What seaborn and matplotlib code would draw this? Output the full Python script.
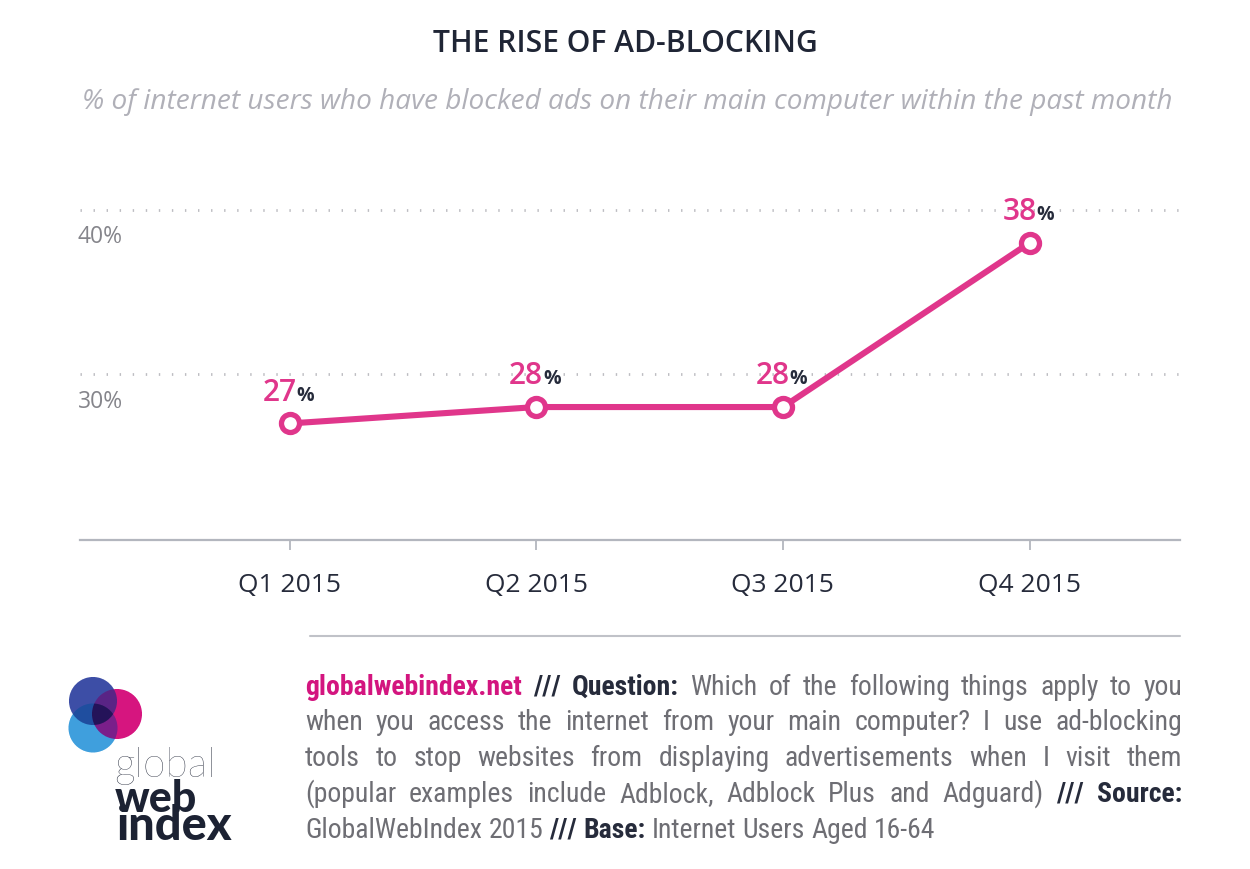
import matplotlib
matplotlib.use("Agg")
import matplotlib.pyplot as plt
import seaborn as sns
import pandas as pd
import numpy as np
from matplotlib import font_manager
from matplotlib.lines import Line2D
from matplotlib.colors import to_rgb

# ---------------- data ----------------
quarters = ["Q1 2015", "Q2 2015", "Q3 2015", "Q4 2015"]
adblock_pct = [27, 28, 28, 38]
ytick_values = [30, 40]
ytick_labels = ["30%", "40%"]

title = "THE RISE OF AD-BLOCKING"
subtitle = "% of internet users who have blocked ads on their main computer within the past month"

footer_lines = [
    [("globalwebindex.net", "brand"), ("///", "bold"), ("Question:", "bold"),
     ("Which of the following things apply to you", "reg")],
    [("when you access the internet from your main computer? I use ad-blocking", "reg")],
    [("tools to stop websites from displaying advertisements when I visit them", "reg")],
    [("(popular examples include Adblock, Adblock Plus and Adguard)", "reg"), ("/// Source:", "bold")],
    [("GlobalWebIndex 2015", "reg"), ("/// Base:", "bold"), ("Internet Users Aged 16-64", "reg")],
]

# ---------------- style ----------------
PINK = "#e0368b"
BRAND = "#d3157f"
NAVY = "#262b3b"
GREY_TXT = "#6e6e74"
W, H = 1250, 870

sns.set_theme(style="white")
plt.rcParams["font.family"] = ["Open Sans", "DejaVu Sans"]
names = {f.name for f in font_manager.fontManager.ttflist}
COND = "Open Sans"
for cand in ["Liberation Sans Narrow", "Roboto Condensed", "Open Sans Condensed",
             "Noto Sans Condensed", "Roboto"]:
    if cand in names:
        COND = cand
        break

fig = plt.figure(figsize=(W / 100, H / 100), dpi=100)
fig.patch.set_facecolor("white")
renderer = fig.canvas.get_renderer()


def fx(x):
    return x / W


def fy(y):
    return 1 - y / H


def fit_width(t, target):
    bb = t.get_window_extent(renderer)
    t.set_fontsize(t.get_fontsize() * target / bb.width)


# ---------------- axes ----------------
ax = fig.add_axes([fx(80), fy(541), fx(1180) - fx(80), (541 - 129) / H])
df = pd.DataFrame({"quarter": quarters, "pct": adblock_pct})
sns.lineplot(data=df, x="quarter", y="pct", ax=ax, color=PINK, linewidth=4.4,
             marker="o", markersize=13, markerfacecolor="white",
             markeredgecolor=PINK, markeredgewidth=3.8, sort=False, zorder=5)

ax.set_xlim(-0.85, 3.61)
ax.set_ylim(19.9, 45)
ax.set_xlabel("")
ax.set_ylabel("")
for s in ["top", "right", "left"]:
    ax.spines[s].set_visible(False)
ax.spines["bottom"].set_color("#b3b6be")
ax.spines["bottom"].set_linewidth(1.6)

ax.set_yticks(ytick_values)
ax.set_yticklabels([])
ax.tick_params(axis="y", length=0, left=False)
ax.yaxis.grid(True, color="#bdbdc2", linewidth=2.0, linestyle=(0, (0.5, 4.2)))
ax.xaxis.grid(False)

ax.tick_params(axis="x", bottom=True, direction="out", length=7, width=1.3,
               color="#b3b6be", pad=16, labelsize=19, labelcolor=NAVY)

for v, lab in zip(ytick_values, ytick_labels):
    ax.annotate(lab, xy=(0, v), xycoords=("axes fraction", "data"),
                xytext=(-1.5, -19), textcoords="offset points",
                ha="left", va="center", fontsize=16.5, color="#85858b")

for i, v in enumerate(adblock_pct):
    ax.annotate(f"{v}", xy=(i, v), xytext=(5, 17), textcoords="offset points",
                ha="right", va="baseline", fontsize=21.5, color=PINK, fontweight="semibold")
    ax.annotate("%", xy=(i, v), xytext=(5, 17), textcoords="offset points",
                ha="left", va="baseline", fontsize=14, color=NAVY, fontweight="bold")

# ---------------- titles ----------------
t = fig.text(0.5, fy(44), title, ha="center", va="center", fontsize=20,
             fontweight="semibold", color="#1f2535")
fit_width(t, 385)
st = fig.text(fx(627.5), fy(102), subtitle, ha="center", va="center", fontsize=18,
              fontstyle="italic", fontweight="medium", color="#b0b0b8")
fit_width(st, 1089)

# ---------------- footer rule ----------------
fig.add_artist(Line2D([fx(310), fx(1180)], [fy(637), fy(637)],
                      color="#c0c2c8", linewidth=1.5))

# ---------------- footer text (justified) ----------------
styles = {
    "brand": dict(color=BRAND, fontweight="bold"),
    "bold": dict(color=NAVY, fontweight="bold"),
    "reg": dict(color=GREY_TXT),
}
X0, X1 = 305, 1182
baselines = [695, 730, 766, 802, 838]
FAM = [COND, "DejaVu Sans"]


def words_of(line):
    out = []
    for seg, st_ in line:
        for w in seg.split(" "):
            out.append((w, st_))
    return out


def measure_line(line, size):
    ws = []
    for w, st_ in words_of(line):
        a = fig.text(0, 0, w, fontsize=size, family=FAM, **styles[st_])
        ws.append(a.get_window_extent(renderer).width)
        a.remove()
    sp = fig.text(0, 0, "x x", fontsize=size, family=FAM)
    sp2 = fig.text(0, 0, "xx", fontsize=size, family=FAM)
    spw = sp.get_window_extent(renderer).width - sp2.get_window_extent(renderer).width
    sp.remove(); sp2.remove()
    return ws, spw


base = 18.0
natural = []
for line in footer_lines[:4]:
    ws, spw = measure_line(line, base)
    natural.append(sum(ws) + spw * (len(ws) - 1))
limit = (X1 - X0) * 0.985
fsize = min(base * limit / max(natural), 20.0)

for li, (line, yb) in enumerate(zip(footer_lines, baselines)):
    wl = words_of(line)
    ws, spw = measure_line(line, fsize)
    if li < 4 and len(ws) > 1:
        gap = ((X1 - X0) - sum(ws)) / (len(ws) - 1)
    else:
        gap = spw
    x = X0
    for (w, st_), wd in zip(wl, ws):
        fig.text(fx(x), fy(yb), w, fontsize=fsize, family=FAM,
                 ha="left", va="baseline", **styles[st_])
        x += wd + gap

# ---------------- logo: three overlapping discs ----------------
LX0, LY0, LS = 62, 672, 88          # pixel box (left, top, size)
SS = 4
g = (np.arange(LS * SS) + 0.5) / SS
gx, gy = np.meshgrid(LX0 + g, LY0 + g)
inA = (gx - 93) ** 2 + (gy - 702) ** 2 <= 24 ** 2      # dark blue
inB = (gx - 117) ** 2 + (gy - 715) ** 2 <= 25 ** 2     # magenta
inC = (gx - 93) ** 2 + (gy - 729) ** 2 <= 24.5 ** 2    # light blue
region_cols = {
    (1, 0, 0): "#3d4fa6", (0, 1, 0): "#d6157f", (0, 0, 1): "#3fa0dd",
    (1, 1, 0): "#5a2585", (1, 0, 1): "#1f4fa0", (0, 1, 1): "#7a1f8a",
    (1, 1, 1): "#25145a",
}
rgb = np.ones(gx.shape + (3,))
cov = (inA | inB | inC).astype(float)
for key, col in region_cols.items():
    m = (inA == bool(key[0])) & (inB == bool(key[1])) & (inC == bool(key[2]))
    rgb[m] = to_rgb(col)
rgb_w = rgb * cov[..., None]
rgb_s = rgb_w.reshape(LS, SS, LS, SS, 3).sum(axis=(1, 3))
cov_s = cov.reshape(LS, SS, LS, SS).sum(axis=(1, 3))
alpha = cov_s / (SS * SS)
col_s = np.where(cov_s[..., None] > 0, rgb_s / np.maximum(cov_s, 1)[..., None], 1.0)
img = np.dstack([col_s, alpha])
fig.figimage(img, xo=LX0, yo=H - LY0 - LS, origin="upper", zorder=3)

gt = fig.text(fx(114), fy(777), "global", ha="left", va="baseline", fontsize=28,
              family=["Lato", "Open Sans"], fontweight="light", color="#1c2233")
fit_width(gt, 101)
wb = fig.text(fx(115), fy(812), "web", ha="left", va="baseline", fontsize=30,
              family=["Lato", "Open Sans"], fontweight="black", color="#1c2233")
fit_width(wb, 82)
ix = fig.text(fx(117), fy(840), "index", ha="left", va="baseline", fontsize=30,
              family=["Lato", "Open Sans"], fontweight="black", color="#1c2233")
fit_width(ix, 115)

fig.savefig("out.png", dpi=100, facecolor="white")
